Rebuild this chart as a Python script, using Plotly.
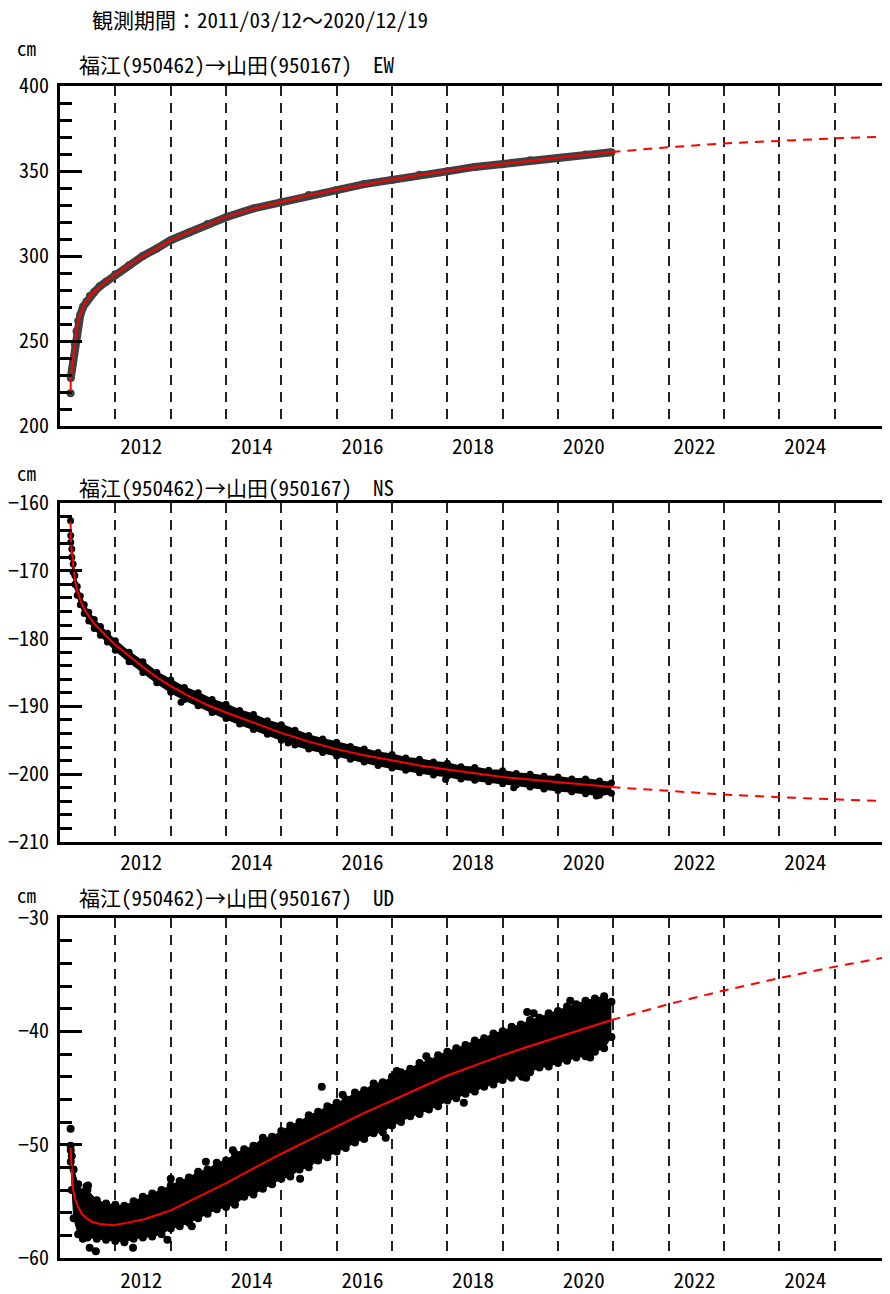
import plotly.graph_objects as go

# ---------------- data ----------------
title_text = "観測期間：2011/03/12～2020/12/19"
subtitles = ["福江(950462)→山田(950167)　EW",
             "福江(950462)→山田(950167)　NS",
             "福江(950462)→山田(950167)　UD"]
label_years = [2012, 2014, 2016, 2018, 2020, 2022, 2024]
grid_years = list(range(2012, 2026))

# EW
ew_first_date = ["2011-03-12"]
ew_first_val = [219.2]
ew_obs_dates = ["2011-03-13", "2011-03-20", "2011-03-29", "2011-04-09", "2011-04-20", "2011-05-01",
                "2011-05-15", "2011-06-03", "2011-06-25", "2011-07-17", "2011-08-15", "2011-09-21",
                "2011-11-01", "2012-01-01", "2012-04-01", "2012-07-01", "2012-10-01", "2013-01-01",
                "2013-05-01", "2013-09-01", "2014-01-01", "2014-07-01", "2015-01-01", "2015-07-01",
                "2016-01-01", "2016-07-01", "2017-01-01", "2017-07-01", "2018-01-01", "2018-07-01",
                "2019-01-01", "2019-07-01", "2020-01-01", "2020-07-01", "2020-12-19"]
ew_obs_vals = [228.3, 233.2, 238.3, 248.2, 255.8, 261.7, 265.3, 270.2, 273.3, 276.4, 278.8, 282.2,
               284.8, 289.2, 294.6, 300.0, 304.4, 309.3, 313.8, 318.8, 322.8, 328.0, 331.8, 335.9,
               338.8, 342.3, 344.8, 347.8, 349.8, 352.4, 354.0, 356.3, 357.6, 359.7, 361.0]
ew_fit_dates = ["2011-03-12", "2011-03-13", "2011-03-20", "2011-03-29", "2011-04-09", "2011-04-20",
                "2011-05-01", "2011-05-15", "2011-06-03", "2011-06-25", "2011-07-17", "2011-08-15",
                "2011-09-21", "2011-11-01", "2012-01-01", "2012-04-01", "2012-07-01", "2012-10-01",
                "2013-01-01", "2013-05-01", "2013-09-01", "2014-01-01", "2014-07-01", "2015-01-01",
                "2015-07-01", "2016-01-01", "2016-07-01", "2017-01-01", "2017-07-01", "2018-01-01",
                "2018-07-01", "2019-01-01", "2019-07-01", "2020-01-01", "2020-07-01", "2020-12-19"]
ew_fit_vals = [219.2, 228.0, 233.0, 238.5, 248.0, 256.0, 261.5, 265.5, 270.0, 273.5, 276.2, 279.0,
               282.0, 285.0, 289.0, 294.8, 299.8, 304.6, 309.2, 314.0, 318.6, 323.0, 327.8, 332.0,
               335.7, 339.0, 342.1, 345.0, 347.6, 350.0, 352.2, 354.2, 356.1, 357.8, 359.5, 361.2]
ew_proj_dates = ["2020-12-19", "2022-01-01", "2023-01-01", "2024-01-01", "2025-01-01", "2026-01-01"]
ew_proj_vals = [361.2, 364.0, 366.2, 367.9, 369.2, 370.3]

# NS
ns_first_date = ["2011-03-12"]
ns_first_val = [-162.6]
ns_env_dates = ["2011-03-13", "2011-03-20", "2011-03-29", "2011-04-09", "2011-04-25", "2011-05-15",
                "2011-06-10", "2011-07-10", "2011-08-15", "2011-09-25", "2011-11-10", "2012-01-01",
                "2012-04-01", "2012-07-01", "2012-10-01", "2013-01-01", "2013-04-01", "2013-07-01",
                "2013-10-01", "2014-01-01", "2014-04-01", "2014-07-01", "2014-10-01", "2015-01-01",
                "2015-04-01", "2015-07-01", "2015-10-01", "2016-01-01", "2016-04-01", "2016-07-01",
                "2016-10-01", "2017-01-01", "2017-04-01", "2017-07-01", "2017-10-01", "2018-01-01",
                "2018-04-01", "2018-07-01", "2018-10-01", "2019-01-01", "2019-04-01", "2019-07-01",
                "2019-10-01", "2020-01-01", "2020-04-01", "2020-07-01", "2020-10-01", "2020-12-19"]
ns_upper = [-164.8, -166.8, -169.0, -170.7, -172.3, -173.7, -175.0, -176.1, -177.2, -178.2, -179.2, -180.3,
            -182.0, -183.4, -185.0, -186.1, -187.2, -188.0, -189.0, -189.7, -190.6, -191.2, -192.1, -192.7,
            -193.5, -194.3, -194.8, -195.3, -195.9, -196.3, -196.8, -197.1, -197.6, -197.8, -198.2, -198.4,
            -198.9, -199.0, -199.4, -199.5, -199.9, -200.0, -200.3, -200.4, -200.7, -200.7, -201.0, -201.3]
ns_lower = [-165.8, -168.0, -170.2, -172.0, -173.6, -175.0, -176.3, -177.4, -178.5, -179.5, -180.5, -181.7,
            -183.4, -185.0, -186.5, -187.9, -189.0, -189.9, -190.9, -191.8, -192.6, -193.4, -194.1, -195.0,
            -195.7, -196.3, -196.8, -197.3, -197.8, -198.2, -198.7, -199.1, -199.4, -199.8, -200.1, -200.3,
            -200.7, -200.9, -201.1, -201.4, -201.6, -201.9, -202.2, -202.4, -202.6, -202.9, -203.1, -202.8]
ns_out_dates = ["2013-03-10", "2015-02-15", "2017-12-20", "2019-03-15", "2020-09-10"]
ns_out_vals = [-189.4, -195.4, -200.8, -202.0, -203.2]
ns_fit_dates = ["2011-03-12", "2011-03-13", "2011-03-20", "2011-03-29", "2011-04-09", "2011-04-25",
                "2011-05-15", "2011-06-10", "2011-07-10", "2011-08-15", "2011-09-25", "2011-11-10",
                "2012-01-01", "2012-04-01", "2012-07-01", "2012-10-01", "2013-01-01", "2013-05-01",
                "2013-09-01", "2014-01-01", "2014-07-01", "2015-01-01", "2015-07-01", "2016-01-01",
                "2016-07-01", "2017-01-01", "2017-07-01", "2018-01-01", "2018-07-01", "2019-01-01",
                "2019-07-01", "2020-01-01", "2020-07-01", "2020-12-19"]
ns_fit_vals = [-162.8, -165.2, -167.3, -169.6, -171.3, -172.9, -174.3, -175.6, -176.7, -177.8, -178.8, -179.8,
               -180.9, -182.6, -184.2, -185.7, -187.0, -188.5, -189.8, -190.9, -192.4, -193.9, -195.2, -196.3,
               -197.2, -198.0, -198.7, -199.3, -199.9, -200.4, -200.8, -201.2, -201.6, -201.9]
ns_proj_dates = ["2020-12-19", "2022-01-01", "2023-01-01", "2024-01-01", "2025-01-01", "2026-01-01"]
ns_proj_vals = [-201.9, -202.5, -203.0, -203.4, -203.7, -204.0]

# UD
ud_env_dates = ["2011-03-13", "2011-03-20", "2011-04-01", "2011-05-01", "2011-06-01", "2011-07-01",
                "2011-09-01", "2011-11-01",
                "2012-01-01", "2012-03-01", "2012-05-01", "2012-07-01", "2012-09-01", "2012-11-01",
                "2013-01-01", "2013-03-01", "2013-05-01", "2013-07-01", "2013-09-01", "2013-11-01",
                "2014-01-01", "2014-03-01", "2014-05-01", "2014-07-01", "2014-09-01", "2014-11-01",
                "2015-01-01", "2015-03-01", "2015-05-01", "2015-07-01", "2015-09-01", "2015-11-01",
                "2016-01-01", "2016-03-01", "2016-05-01", "2016-07-01", "2016-09-01", "2016-11-01",
                "2017-01-01", "2017-03-01", "2017-05-01", "2017-07-01", "2017-09-01", "2017-11-01",
                "2018-01-01", "2018-03-01", "2018-05-01", "2018-07-01", "2018-09-01", "2018-11-01",
                "2019-01-01", "2019-03-01", "2019-05-01", "2019-07-01", "2019-09-01", "2019-11-01",
                "2020-01-01", "2020-03-01", "2020-05-01", "2020-07-01", "2020-09-01", "2020-11-01",
                "2020-12-19"]
ud_upper = [-50.5, -51.0, -52.2, -53.5, -54.2, -54.0, -54.9, -55.2,
            -55.3, -55.4, -55.0, -54.6, -54.3, -54.0,
            -53.6, -53.2, -52.9, -52.4, -52.2, -51.6,
            -51.4, -50.8, -50.4, -50.1, -49.4, -49.3,
            -48.8, -48.3, -48.0, -47.4, -47.1, -46.6,
            -46.3, -46.0, -45.4, -45.2, -44.6, -44.5,
            -44.0, -43.6, -43.3, -42.8, -42.6, -42.1,
            -41.8, -41.5, -41.2, -40.8, -40.6, -40.2,
            -40.0, -39.6, -39.4, -39.0, -38.8, -38.4,
            -38.2, -37.8, -37.6, -37.3, -37.1, -36.9,
            -37.4]
ud_lower = [-51.5, -54.0, -56.5, -57.9, -58.3, -58.2, -58.3, -58.4,
            -58.5, -58.6, -58.3, -58.2, -58.1, -57.9,
            -57.4, -57.2, -56.9, -56.5, -56.1, -55.7,
            -55.5, -55.3, -54.6, -54.4, -53.9, -53.5,
            -53.0, -52.8, -52.2, -52.0, -51.4, -51.1,
            -50.6, -50.3, -49.8, -49.5, -49.0, -48.9,
            -48.3, -48.0, -47.5, -47.3, -46.9, -46.6,
            -46.1, -45.9, -45.5, -45.3, -44.9, -44.7,
            -44.3, -44.1, -43.8, -43.6, -43.2, -43.1,
            -42.8, -42.6, -42.3, -42.2, -41.8, -41.5,
            -40.5]
ud_out_dates = ["2011-03-12", "2011-03-12", "2011-06-25", "2011-07-05", "2011-07-16", "2011-08-26",
                "2012-04-27", "2013-01-01", "2013-08-21", "2014-05-04", "2015-09-25", "2019-06-12",
                "2019-07-25", "2020-03-22", "2019-05-10", "2019-06-05", "2020-08-01", "2012-12-10",
                "2014-02-15", "2016-02-10", "2016-11-20", "2017-08-15", "2018-04-20", "2013-05-20",
                "2015-05-05", "2017-02-01"]
ud_out_vals = [-48.6, -50.1, -53.7, -53.6, -59.1, -59.4, -59.1, -53.0, -51.5, -54.4, -44.9, -38.3,
               -38.4, -37.3, -44.0, -44.1, -42.3, -58.4, -50.5, -45.6, -49.4, -42.2, -46.3, -57.2,
               -53.0, -43.5]
ud_fit_dates = ["2011-03-12", "2011-03-15", "2011-03-18", "2011-03-22", "2011-03-29", "2011-04-10",
                "2011-05-01", "2011-05-25", "2011-06-26", "2011-08-01", "2011-09-21", "2011-12-18",
                "2012-03-15", "2012-07-03", "2012-10-01", "2013-01-01", "2013-07-01", "2014-01-01",
                "2014-07-01", "2015-01-01", "2015-07-01", "2016-01-01", "2016-07-01", "2017-01-01",
                "2017-07-01", "2018-01-01", "2018-07-01", "2019-01-01", "2019-07-01", "2020-01-01",
                "2020-07-01", "2020-12-19"]
ud_fit_vals = [-50.3, -51.3, -51.9, -52.8, -54.0, -54.8, -55.5, -56.1, -56.5, -56.8, -57.0, -57.1,
               -56.9, -56.6, -56.2, -55.8, -54.6, -53.4, -52.1, -50.8, -49.6, -48.4, -47.2, -46.1,
               -45.0, -43.9, -43.0, -42.1, -41.3, -40.5, -39.7, -39.0]
ud_proj_dates = ["2020-12-19", "2022-01-01", "2023-01-01", "2024-01-01", "2025-01-01", "2026-01-01"]
ud_proj_vals = [-39.0, -37.6, -36.4, -35.3, -34.3, -33.4]

y_ranges = [[200, 400], [-210, -160], [-60, -30]]
y_major = [50, 10, 10]
y_minor = [10, 2, 2]

# ---------------- layout constants (screen pixels of the reference) ----------------
OFF = 8                      # default body margin of the html page
W, H = 890 - OFF, 1294 - OFF
PLOT_L, PLOT_R = 60, 890
panel_px = [(86, 426), (503, 842), (918, 1258)]
cm_y = [47, 472, 894]
sub_y = [64, 487, 897]
xlabel_standoff = [0, 0, 2]


def py(p):
    return 1 - (p - OFF) / H


def px(p):
    return (p - PLOT_L) / (PLOT_R - PLOT_L)


RED = "#ff0000"
fig = go.Figure()

# EW panel
fig.add_trace(go.Scatter(x=ew_obs_dates, y=ew_obs_vals, mode="lines+markers",
                         line=dict(color="#404040", width=8), marker=dict(size=8, color="#404040"),
                         xaxis="x", yaxis="y", hoverinfo="skip"))
fig.add_trace(go.Scatter(x=ew_first_date, y=ew_first_val, mode="markers",
                         marker=dict(size=8, color="#404040"), xaxis="x", yaxis="y"))
fig.add_trace(go.Scatter(x=ew_fit_dates, y=ew_fit_vals, mode="lines",
                         line=dict(color=RED, width=2), xaxis="x", yaxis="y"))
fig.add_trace(go.Scatter(x=ew_proj_dates, y=ew_proj_vals, mode="lines",
                         line=dict(color=RED, width=2, dash="9px,7px"), xaxis="x", yaxis="y"))

# NS panel
fig.add_trace(go.Scatter(x=ns_env_dates, y=ns_lower, mode="lines+markers",
                         line=dict(color="black", width=2), marker=dict(size=7, color="black"),
                         xaxis="x2", yaxis="y2"))
fig.add_trace(go.Scatter(x=ns_env_dates, y=ns_upper, mode="lines+markers", fill="tonexty",
                         fillcolor="black",
                         line=dict(color="black", width=2), marker=dict(size=7, color="black"),
                         xaxis="x2", yaxis="y2"))
fig.add_trace(go.Scatter(x=ns_first_date + ns_out_dates, y=ns_first_val + ns_out_vals, mode="markers",
                         marker=dict(size=7, color="black"), xaxis="x2", yaxis="y2"))
fig.add_trace(go.Scatter(x=ns_fit_dates, y=ns_fit_vals, mode="lines",
                         line=dict(color=RED, width=2), xaxis="x2", yaxis="y2"))
fig.add_trace(go.Scatter(x=ns_proj_dates, y=ns_proj_vals, mode="lines",
                         line=dict(color=RED, width=2, dash="9px,7px"), xaxis="x2", yaxis="y2"))

# UD panel
fig.add_trace(go.Scatter(x=ud_env_dates, y=ud_lower, mode="lines+markers",
                         line=dict(color="black", width=1), marker=dict(size=8, color="black"),
                         xaxis="x3", yaxis="y3"))
fig.add_trace(go.Scatter(x=ud_env_dates, y=ud_upper, mode="lines+markers", fill="tonexty",
                         fillcolor="black",
                         line=dict(color="black", width=1), marker=dict(size=8, color="black"),
                         xaxis="x3", yaxis="y3"))
fig.add_trace(go.Scatter(x=ud_out_dates, y=ud_out_vals, mode="markers",
                         marker=dict(size=8, color="black"), xaxis="x3", yaxis="y3"))
fig.add_trace(go.Scatter(x=ud_fit_dates, y=ud_fit_vals, mode="lines",
                         line=dict(color=RED, width=2), xaxis="x3", yaxis="y3"))
fig.add_trace(go.Scatter(x=ud_proj_dates, y=ud_proj_vals, mode="lines",
                         line=dict(color=RED, width=2, dash="9px,7px"), xaxis="x3", yaxis="y3"))

FAM = "Noto Sans Mono CJK JP, Noto Sans CJK JP, sans-serif"
XTICKFONT = dict(family=FAM, size=21, color="black")
YTICKFONT = dict(family=FAM, size=20, color="black")
JPFONT = dict(family=FAM, size=21, color="black")

label_vals = [f"{y}-06-20" for y in label_years]
label_text = [str(y) for y in label_years]
grid_vals = [f"{y}-01-01" for y in grid_years]

layout = dict(width=W, height=H,
              margin=dict(l=PLOT_L - OFF, r=W - (PLOT_R - OFF), t=0, b=0, pad=0),
              showlegend=False, plot_bgcolor="white", paper_bgcolor="white", template="none")

annotations = [dict(text=title_text, x=px(90), y=py(19), xref="paper", yref="paper",
                    xanchor="left", yanchor="middle", showarrow=False, font=JPFONT)]

for i, (top, bot) in enumerate(panel_px):
    n = "" if i == 0 else str(i + 1)
    dom = [py(bot), py(top)]
    layout["xaxis" + n] = dict(
        type="date", range=["2011-01-01", "2026-01-01"], domain=[0, 1], anchor="y" + n,
        automargin=False,
        tickmode="array", tickvals=label_vals, ticktext=label_text, ticks="", ticklen=0,
        showgrid=False, zeroline=False, showline=True, linewidth=3, linecolor="black", mirror=True,
        tickfont=XTICKFONT, ticklabelstandoff=xlabel_standoff[i],
        minor=dict(tickmode="array", tickvals=grid_vals, showgrid=True, griddash="10px,7px",
                   gridcolor="#222222", gridwidth=1.5, ticks=""),
    )
    layout["yaxis" + n] = dict(
        domain=dom, range=y_ranges[i], anchor="x" + n, dtick=y_major[i], tick0=0,
        automargin=False,
        ticks="inside", ticklen=22, tickwidth=3, tickcolor="black",
        showgrid=False, zeroline=False, showline=True, linewidth=3, linecolor="black",
        tickfont=YTICKFONT, ticklabelstandoff=4,
        minor=dict(dtick=y_minor[i], tick0=0, ticks="inside", ticklen=12, tickwidth=3,
                   tickcolor="black", showgrid=False),
    )
    layout["yaxis" + str(i + 4)] = dict(
        overlaying="y" + n, side="right", anchor="x" + n, range=y_ranges[i],
        automargin=False,
        dtick=y_major[i], tick0=0, ticks="inside", ticklen=20, tickwidth=3, tickcolor="black",
        showticklabels=False, showgrid=False, zeroline=False, showline=False,
        minor=dict(dtick=y_minor[i], tick0=0, ticks="inside", ticklen=10, tickwidth=3,
                   tickcolor="black", showgrid=False),
    )
    annotations.append(dict(text="cm", x=px(15), y=py(cm_y[i]), xref="paper", yref="paper",
                            xanchor="left", yanchor="middle", showarrow=False,
                            font=dict(family=FAM, size=19, color="black")))
    annotations.append(dict(text=subtitles[i], x=px(77), y=py(sub_y[i]), xref="paper", yref="paper",
                            xanchor="left", yanchor="middle", showarrow=False, font=JPFONT))

layout["annotations"] = annotations
fig.update_layout(**layout)
fig.write_html("out.html")
